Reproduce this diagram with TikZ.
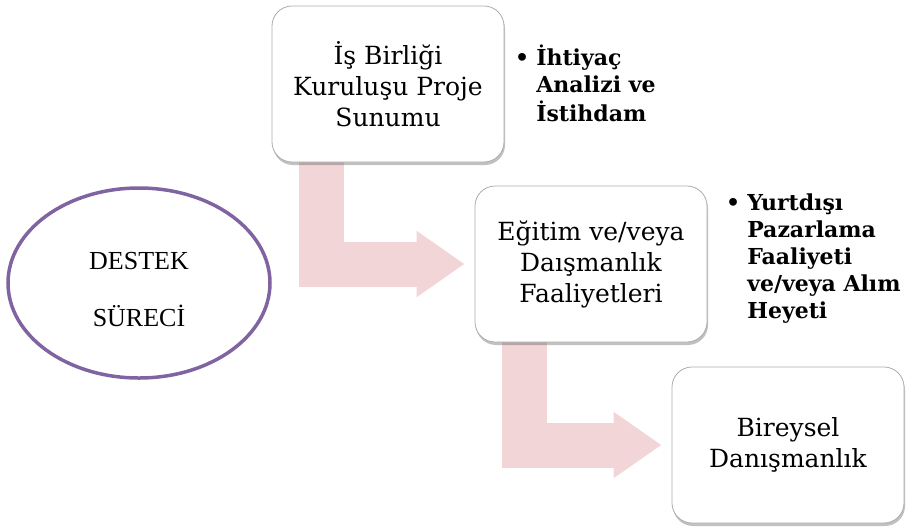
\documentclass[tikz,border=0pt]{standalone}
\usepackage{fontspec}
\setmainfont{DejaVu Serif}
\newfontfamily\timesfont{Liberation Serif}
\usetikzlibrary{positioning,arrows.meta,shapes.geometric,shadows,backgrounds,calc}
\definecolor{okpembe}{RGB}{242,213,215}
\definecolor{elmor}{RGB}{128,100,162}
\tikzset{
    adim/.style={rectangle,rounded corners=20pt,draw=gray!65,line width=0.8pt,fill=white,
                 minimum width=232pt,minimum height=156pt,align=center,
                 font=\fontsize{25}{31}\selectfont,
                 drop shadow={shadow xshift=1pt,shadow yshift=-3pt,opacity=0.35,fill=black!70}},
    surec/.style={ellipse,draw=elmor,line width=3.5pt,minimum width=262pt,minimum height=190pt,
                  align=center,font=\timesfont\fontsize{26}{30}\selectfont},
    madde/.style={anchor=north west,inner sep=0pt,font=\bfseries\fontsize{22}{27}\selectfont},
    okbag/.style={okpembe,line width=45pt,line join=miter,
                  -{Triangle[length=48pt,width=63pt]},shorten >=10pt},
}
\newcommand{\maddeler}[1]{\begin{tabular}{@{}l@{\hspace{7pt}}l@{}}\textbullet & #1\end{tabular}}

\begin{document}
\begin{tikzpicture}[x=1pt,y=-1pt]
\useasboundingbox (0,0) rectangle (915,531);
            \node[surec] (destek) at (139,283) {\rule{0pt}{30pt}DESTEK\\[27pt]SÜRECİ};
            \node[adim] (isbirligi) at (388,84) {İş Birliği\\Kuruluşu Proje\\Sunumu};
            \node[adim] (egitim) at (591,264) {Eğitim ve/veya\\Daışmanlık\\Faaliyetleri};
            \node[adim] (bireysel) at (788,445) {Bireysel\\Danışmanlık};

            \node[madde] (ihtiyac) at (515,45) {\maddeler{İhtiyaç\\ & Analizi ve\\ & İstihdam}};
            \node[madde] (yurtdisi) at (726,191) {\maddeler{Yurtdışı\\ & Pazarlama\\ & Faaliyeti\\ & ve/veya Alım\\ & Heyeti}};

            \begin{pgfonlayer}{background}
            \draw[okbag] ($(isbirligi.south west)+(50,-10)$) |- (egitim.west);
            \draw[okbag] ($(egitim.south west)+(50,-10)$) |- (bireysel.west);
            \end{pgfonlayer}
\end{tikzpicture}
\end{document}
